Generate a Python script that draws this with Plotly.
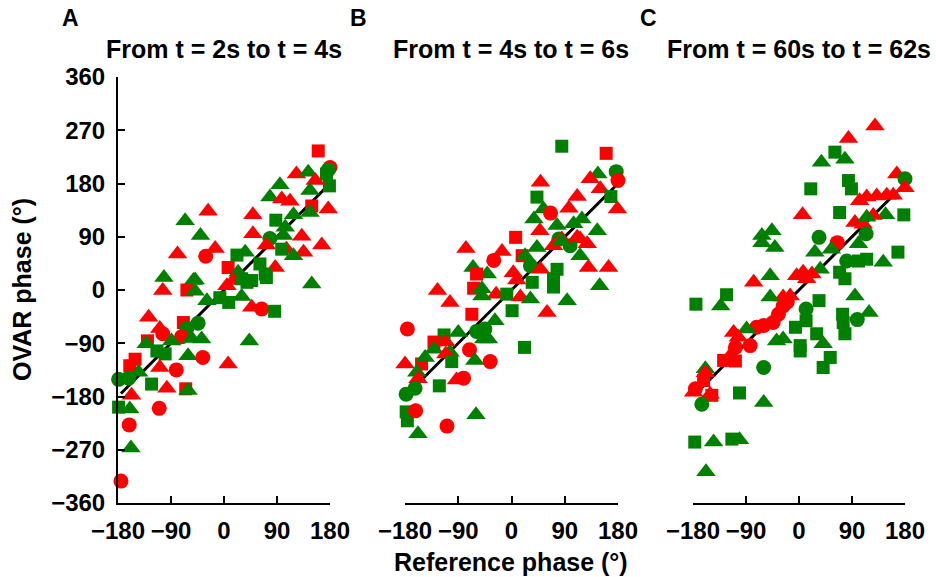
import plotly.graph_objects as go

# ---------------- data (degrees) ----------------
A_ref = [160,180,177,174,179,123,143,155,146,95,
         78,98,112,149,177,146,118,88,49,-27,
         -66,-40,-31,-15,49,78,72,101,132,106,
         135,118,166,98,22,61,36,87,7,24,
         72,149,-52,5,16,-63,-29,-7,8,30,
         47,64,86,39,47,30,70,-79,-102,-104,
         -49,-49,104,-128,-69,-63,-44,-109,-104,-72,
         -130,-132,-89,-55,-38,-114,-100,-61,-36,-151,
         -160,-109,-81,-145,-179,-162,-123,-97,-182,-157,
         -65,-61,7,43,-179,-160,-110,-161,-158,-175]
A_ovar = [235,207,203,196,176,196,199,185,168,178,
          157,154,150,142,137,131,127,118,127,133,
          117,92,57,70,95,87,76,92,91,69,
          64,58,76,69,59,44,64,38,38,30,
          21,10,16,7,16,0,-18,-13,-21,-11,
          -29,-32,-36,13,16,19,27,61,21,-1,
          17,-2,106,-46,-55,-65,-56,-65,-74,-79,
          -86,-91,-86,-82,-83,-103,-108,-111,-114,-117,
          -128,-131,-135,-139,-151,-149,-159,-166,-173,-178,
          -167,-170,-125,-86,-198,-201,-200,-228,-267,-323]
A_color = list("rrgggrgrgg" "grrrrgggrr" "ggrrrgrgrr" "rgrggggrrg" "gggrrrgggg"
               "rrgggggrgr" "gggrrggrrr" "rgggggggrr" "rrrggggrrr" "rgrgggrrgr")
A_shape = list("soossttttt" "tttstttstt" "ttottotttt" "tttsssttst" "sttttstsst"
               "tosssssttt" "ttttsootoo" "sttttsstos" "stotoosttt" "stttstooto")

B_ref = [85,160,177,180,146,133,150,168,179,111,
         97,49,43,54,66,38,77,105,119,48,
         7,145,116,128,99,80,71,85,111,85,
         43,116,130,164,149,18,-30,-16,-77,-65,
         -41,-59,3,23,32,49,77,71,71,35,
         9,-64,-50,-125,-104,-26,-8,15,32,94,
         -67,-50,1,60,-176,-28,-59,-45,-47,-39,
         -114,-90,-131,-111,-131,-104,-71,-111,-101,-62,
         -36,-180,-152,-146,-160,-158,-93,-81,-122,-178,
         -163,-178,-176,-162,-60,-109,-158,22]
B_ovar = [243,231,200,185,196,188,171,158,137,158,
          138,182,157,137,130,120,109,112,120,100,
          89,100,86,78,75,86,75,86,89,83,
          72,58,38,38,7,58,50,65,70,38,
          27,27,29,58,41,35,35,19,5,13,
          17,3,2,-1,-21,-7,-7,-12,-15,-18,
          -41,-10,-35,-38,-66,-52,-70,-66,-83,-83,
          -76,-72,-88,-88,-100,-105,-101,-108,-121,-119,
          -121,-125,-125,-114,-139,-150,-152,-149,-162,-176,
          -166,-206,-221,-204,-211,-230,-243,-97]
B_color = list("grgrgrrgrr" "rrggrggggr" "rgrrggrrrg" "ggrrgrrrrg" "grrggrgggg"
               "rrgrrrgrgg" "rggrrggggg" "ggrrggrrgg" "rrrggrrrgg" "gggrgrgg")
B_shape = list("ssootttstt" "ttstottttt" "stttootttt" "tttttsottt" "tsttotssss"
               "tsttttsttt" "ststotoott" "ststttotst" "otsttttoso" "ossotots")

C_ref = [129,84,61,38,78,84,89,20,166,180,
         180,115,132,149,160,103,178,147,95,109,
         126,115,69,6,114,-63,-46,-41,-63,34,
         65,55,27,101,36,101,115,168,143,81,
         7,22,13,69,78,-49,-77,95,-27,-15,
         -49,-175,-133,-123,34,119,12,12,-6,99,
         74,75,78,30,2,2,41,53,41,-38,
         -27,-27,-35,-44,-60,-72,-89,-111,-103,-83,
         -108,-108,-128,-117,-159,-159,-162,-179,-151,-148,
         -176,-165,-60,-101,-60,-177,-145,-114,-101,-158,
         -4,-20]
C_ovar = [277,256,233,216,221,185,171,171,196,188,
          173,157,159,160,160,151,127,127,114,111,
          126,123,131,127,95,92,100,72,80,89,
          80,69,64,78,35,49,52,64,47,49,
          30,27,19,30,19,24,13,-10,-12,-10,
          -12,-24,-27,-8,-18,-38,-32,-52,-63,-50,
          -41,-55,-74,-74,-94,-103,-91,-114,-131,-86,
          -83,-27,-41,-55,-60,-63,-66,-72,-80,-94,
          -97,-120,-119,-111,-133,-140,-153,-173,-176,-178,
          -167,-193,-131,-174,-190,-257,-257,-252,-253,-307,
          24,-20]
C_color = list("rrggggggrg" "rrrrrrggrr" "rggrgggggg" "rggggggggg" "rrrgggrgrr"
               "gggggggggg" "gggggggggg" "grrrrrgrrr" "rrrrgrrrrr" "rggggggggg" "rr")
C_shape = list("ttsttsssto" "ttttttsttt" "ttstotttto" "ottttsssto" "tttssttttt"
               "tstsstosso" "sssssstsst" "tooooottto" "osstttstts" "ooostststt" "to")

panel_letters = ["A", "B", "C"]
panel_titles = ["From t = 2s to t = 4s", "From t = 4s to t = 6s", "From t = 60s to t = 62s"]
x_ticks = [-180, -90, 0, 90, 180]
x_ticktext = ["\u2212180", "\u221290", "0", "90", "180"]
y_ticks = [-360, -270, -180, -90, 0, 90, 180, 270, 360]
y_ticktext = ["\u2212360", "\u2212270", "\u2212180", "\u221290", "0", "90", "180", "270", "360"]
unity_line = [-175, 175]

# ---------------- styling ----------------
W, H = 936, 577
FONT = "Liberation Sans, Arial, Helvetica, sans-serif"
COLORS = {"r": "#ff0000", "g": "#008000"}
SYMBOLS = {"o": "circle", "s": "square", "t": "triangle-up"}
SIZES = {"o": 15, "s": 13, "t": 17}

x_px = [(118, 330), (405, 618), (693, 905)]
y_px = (77, 503)

panels = [(A_ref, A_ovar, A_color, A_shape),
          (B_ref, B_ovar, B_color, B_shape),
          (C_ref, C_ovar, C_color, C_shape)]

fig = go.Figure()
layout = dict(width=W, height=H, margin=dict(l=0, r=0, t=0, b=0, autoexpand=False),
              paper_bgcolor="white", plot_bgcolor="white", showlegend=False,
              font=dict(family=FONT, size=24, color="black"))

ydom = [(H - y_px[1]) / H, (H - y_px[0]) / H]
annotations = []
for i, (xs, ys, cs, ss) in enumerate(panels):
    assert len(xs) == len(ys) == len(cs) == len(ss), (i, len(xs), len(ys), len(cs), len(ss))
    sfx = "" if i == 0 else str(i + 1)
    xa, ya = "x" + sfx, "y" + sfx
    fig.add_trace(go.Scatter(x=unity_line, y=unity_line, mode="lines",
                             line=dict(color="black", width=3),
                             xaxis=xa, yaxis=ya, hoverinfo="skip"))
    fig.add_trace(go.Scatter(
        x=xs, y=ys, mode="markers", xaxis=xa, yaxis=ya, cliponaxis=False,
        marker=dict(color=[COLORS[c] for c in cs],
                    symbol=[SYMBOLS[s] for s in ss],
                    size=[SIZES[s] for s in ss],
                    opacity=1,
                    line=dict(width=0)),
    ))
    x0, x1 = x_px[i]
    layout["xaxis" + sfx] = dict(
        domain=[x0 / W, x1 / W], anchor=ya, range=[-180, 180], automargin=False,
        showline=True, linecolor="black", linewidth=2, mirror=False,
        ticks="inside", ticklen=7, tickwidth=2, tickcolor="black",
        tickvals=x_ticks, ticktext=x_ticktext, ticklabelstandoff=5,
        tickfont=dict(family=FONT, size=24, weight="bold", color="black"),
        showgrid=False, zeroline=False, fixedrange=True)
    ydict = dict(domain=ydom, anchor=xa, range=[-360, 360], automargin=False,
                 showgrid=False, zeroline=False, fixedrange=True)
    if i == 0:
        ydict.update(showline=True, linecolor="black", linewidth=2,
                     ticks="inside", ticklen=7, tickwidth=2, tickcolor="black",
                     tickvals=y_ticks, ticktext=y_ticktext, ticklabelstandoff=6,
                     tickfont=dict(family=FONT, size=24, weight="bold", color="black"))
    else:
        ydict.update(visible=False)
    layout["yaxis" + sfx] = ydict

    cx = (x0 + x1) / 2
    annotations.append(dict(text=panel_titles[i], x=cx / W, y=(H - 49) / H,
                            xref="paper", yref="paper", showarrow=False,
                            xanchor="center", yanchor="middle",
                            font=dict(family=FONT, size=25, weight="bold")))

letter_x = [70, 358, 648]
for i, L in enumerate(panel_letters):
    annotations.append(dict(text=L, x=letter_x[i] / W, y=(H - 18) / H,
                            xref="paper", yref="paper", showarrow=False,
                            xanchor="center", yanchor="middle",
                            font=dict(family=FONT, size=23, weight="bold")))

annotations.append(dict(text="OVAR phase (\u00b0)", x=22 / W, y=(H - 290) / H,
                        xref="paper", yref="paper", showarrow=False, textangle=-90,
                        xanchor="center", yanchor="middle",
                        font=dict(family=FONT, size=25, weight="bold")))
annotations.append(dict(text="Reference phase (\u00b0)", x=511 / W, y=(H - 562) / H,
                        xref="paper", yref="paper", showarrow=False,
                        xanchor="center", yanchor="middle",
                        font=dict(family=FONT, size=25, weight="bold")))
layout["annotations"] = annotations

fig.update_layout(**layout)
fig.write_html("out.html", config={"displayModeBar": False},
               post_script="document.body.style.margin='0';document.body.style.overflow='hidden';")
